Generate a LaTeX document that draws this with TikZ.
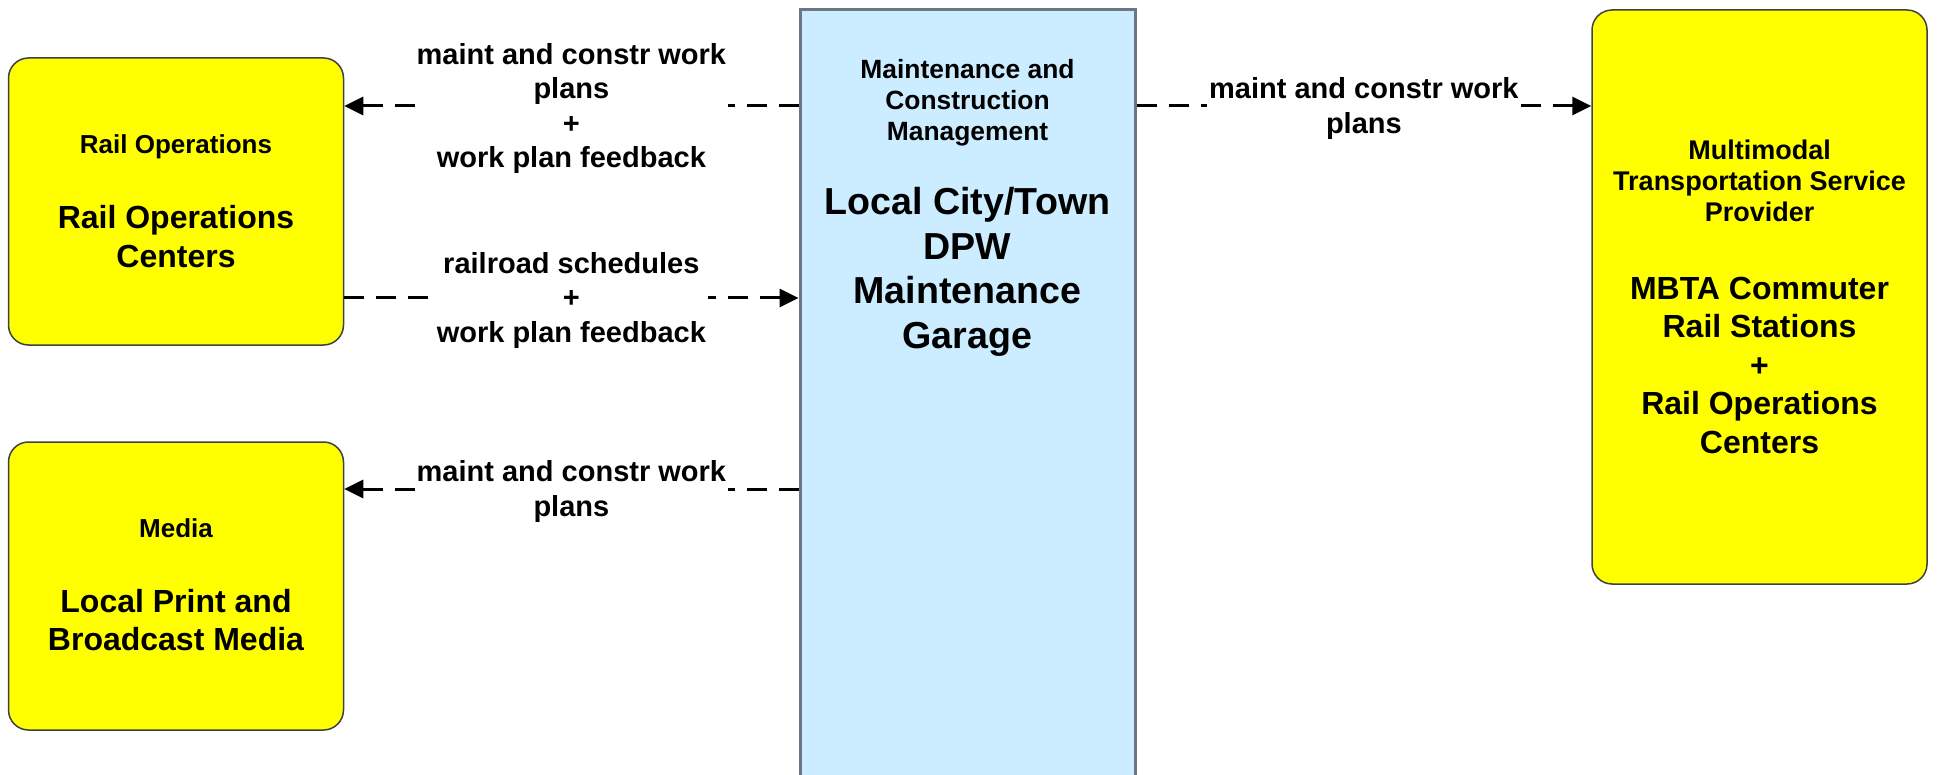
\documentclass[tikz,border=0pt]{standalone}
\usepackage{fontspec}
\setmainfont{Liberation Sans}
\usetikzlibrary{arrows.meta}
\definecolor{boxyellow}{HTML}{FFFF00}
\definecolor{paleblue}{HTML}{CCECFF}
\definecolor{blueborder}{HTML}{6A7886}
\definecolor{darkborder}{HTML}{404040}
\begin{document}
\begin{tikzpicture}[x=1pt,y=-1pt,
 extbox/.style={draw=darkborder, line width=1.5pt, fill=boxyellow, rounded corners=20pt, minimum width=335pt, inner sep=0pt},
 ctrbox/.style={draw=blueborder, line width=3pt, fill=paleblue, minimum width=335pt, minimum height=800pt, inner sep=0pt},
 smalltxt/.style={font=\bfseries\fontsize{26}{31}\selectfont, align=center, inner sep=0pt},
 bigtxt/.style={font=\bfseries\fontsize{32}{38.5}\selectfont, align=center, inner sep=0pt},
 flow/.style={line width=3pt, dash pattern=on 20pt off 12pt, -{Triangle[length=19pt,width=18pt]}},
 lbl/.style={fill=white, font=\bfseries\fontsize{29}{34.6}\selectfont, align=center, inner xsep=2pt, inner ysep=0pt, yshift=-2.5pt}
]
\useasboundingbox (0,0) rectangle (1937,775);

% boxes
\node[extbox, minimum height=287pt] (ro) at (176,201.5) {};
\node[extbox, minimum height=288pt] (md) at (176,586) {};
\node[ctrbox] (dpw) at (967.5,410) {};
\node[extbox, minimum height=574pt] (mb) at (1759.5,297) {};

% box texts
\node[smalltxt] (rotA) at (176,147) {Rail Operations};
\node[bigtxt] (rotB) at (176,236.5) {Rail Operations\\Centers};

\node[smalltxt] (mdA) at (176,528) {Media};
\node[bigtxt] (mdB) at (176,620) {Local Print and\\Broadcast Media};

\node[smalltxt, font=\bfseries\fontsize{26.4}{31}\selectfont] (dpwA) at (967.5,103) {Maintenance and\\Construction\\Management};
\node[bigtxt, font=\bfseries\fontsize{37.6}{44.6}\selectfont] (dpwB) at (967.5,272) {Local City/Town\\DPW\\Maintenance\\Garage};

\node[smalltxt, font=\bfseries\fontsize{27}{31}\selectfont] (mbA) at (1759.5,181) {Multimodal\\Transportation Service\\Provider};
\node[bigtxt] (mbB) at (1759.5,365) {MBTA Commuter\\Rail Stations\\+\\Rail Operations\\Centers};

% flows
\draw[flow] (dpw.west |- 0,106) -- node[lbl] (l1) {maint and constr work\\plans\\+\\work plan feedback} (ro.east |- 0,106);
\draw[flow] (ro.east |- 0,298) -- node[lbl] (l2) {railroad schedules\\+\\work plan feedback} (dpw.west |- 0,298);
\draw[flow] (dpw.west |- 0,489) -- node[lbl] (l3) {maint and constr work\\plans} (md.east |- 0,489);
\draw[flow] (dpw.east |- 0,106) -- node[lbl] (l4) {maint and constr work\\plans} (mb.west |- 0,106);
\end{tikzpicture}
\end{document}
